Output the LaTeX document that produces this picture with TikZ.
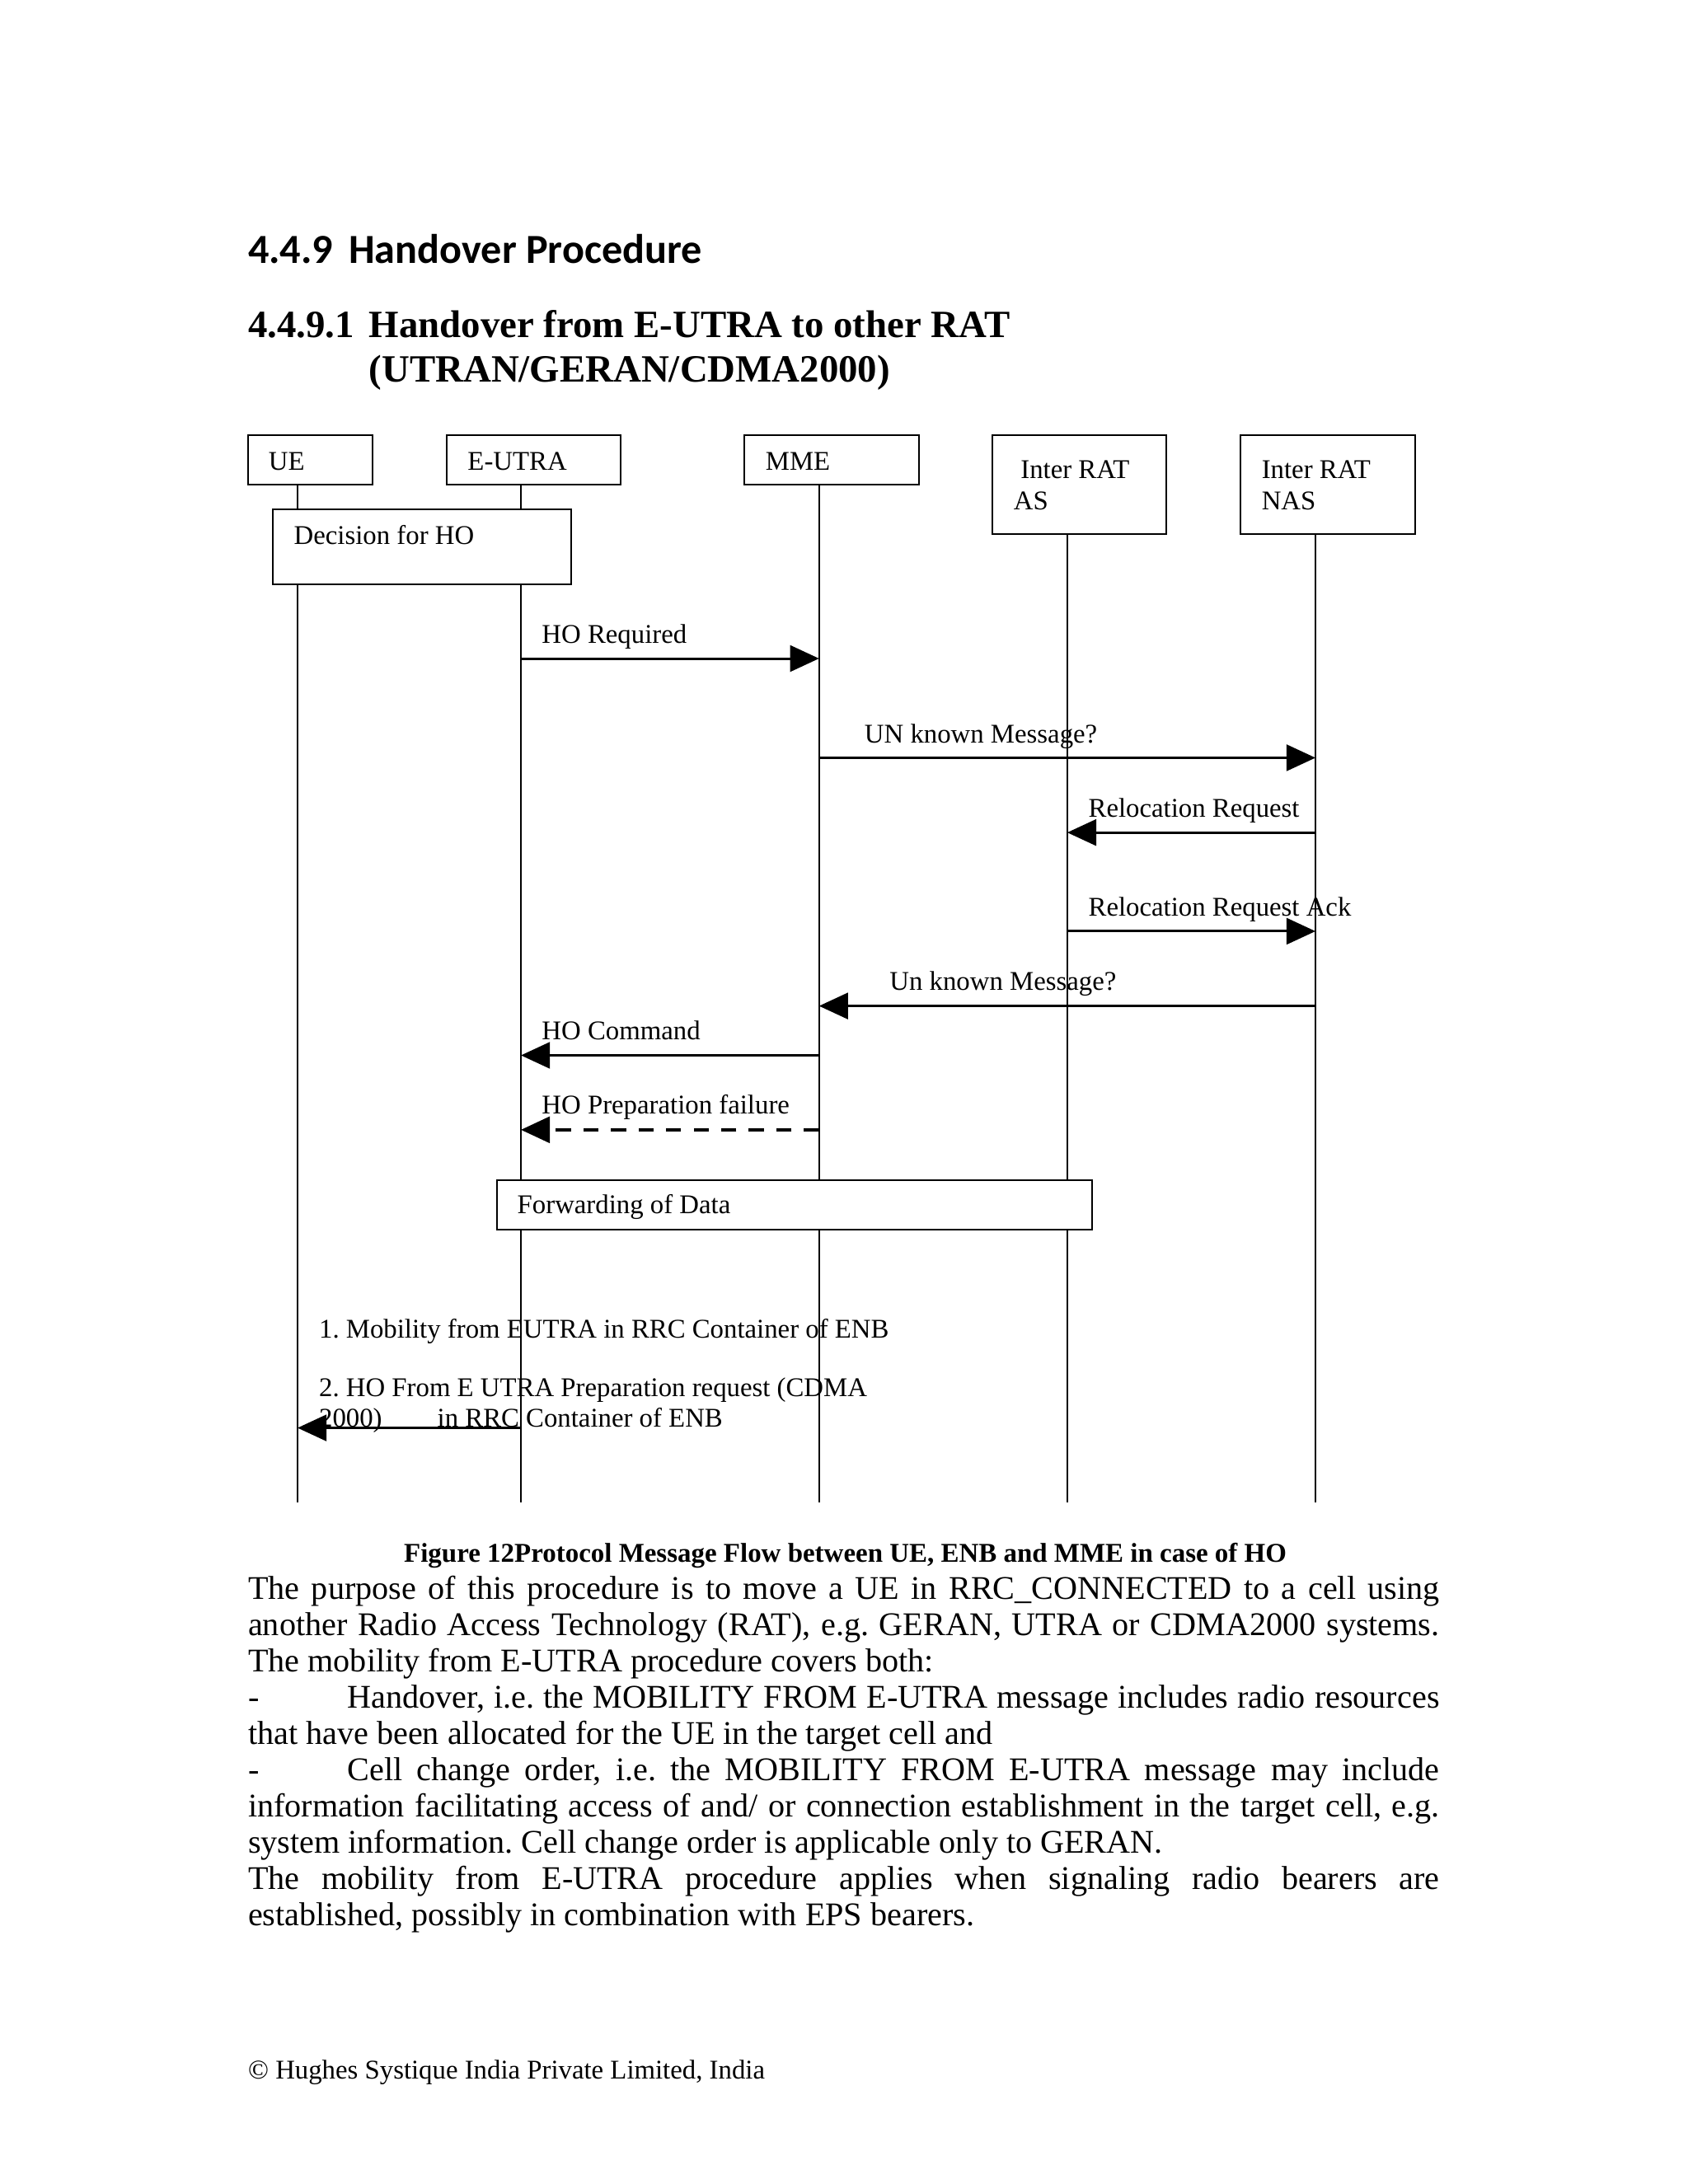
\documentclass[tikz,border=0pt]{standalone}
\usepackage{fontspec}
\setmainfont{Liberation Serif}
\newfontfamily\headsans{Carlito}
\usetikzlibrary{arrows.meta}
\begin{document}
\frenchspacing
\begin{tikzpicture}[x=1pt,y=-1pt,
  every node/.style={inner sep=0pt, outer sep=0pt},
  lbl/.style={anchor=base west, font=\fontsize{9.8}{11.2}\selectfont},
  bodyline/.style={anchor=base west, font=\fontsize{12}{13.2}\selectfont},
  actor/.style={draw, line width=0.6pt, anchor=north west, fill=white},
  life/.style={line width=0.6pt},
  msg/.style={line width=0.9pt, -{Triangle[length=10.5pt,width=9.5pt]}},
  dmsg/.style={msg, line width=1.1pt, dash pattern=on 5.5pt off 4.5pt},
]
\fill[white] (0,0) rectangle (612,792);
\useasboundingbox (0,0) rectangle (612,792);

% headings
\node[anchor=base west, font=\headsans\bfseries\fontsize{15}{17}\selectfont] (h1a) at (90,95.6) {4.4.9};
\node[anchor=base west, font=\headsans\bfseries\fontsize{15}{17}\selectfont] (h1b) at (126.5,95.6) {Handover Procedure};
\node[anchor=base west, font=\bfseries\fontsize{14}{16}\selectfont] (h2a) at (90,122.3) {4.4.9.1};
\node[anchor=base west, font=\bfseries\fontsize{14}{16}\selectfont] (h2b) at (133.8,122.3) {Handover from E-UTRA to other RAT};
\node[anchor=base west, font=\bfseries\fontsize{14}{16}\selectfont] (h2c) at (133.8,138.5) {(UTRAN/GERAN/CDMA2000)};

% lifelines
\coordinate (ueT) at (107.9,175.8); \coordinate (ueB) at (107.9,544.7);
\coordinate (euT) at (188.9,175.8); \coordinate (euB) at (188.9,544.7);
\coordinate (mmT) at (297.0,175.8); \coordinate (mmB) at (297.0,544.7);
\coordinate (asT) at (387.0,193.7); \coordinate (asB) at (387.0,544.7);
\coordinate (naT) at (477.0,193.7); \coordinate (naB) at (477.0,544.7);
\draw[life] (ueT) -- (ueB);
\draw[life] (euT) -- (euB);
\draw[life] (mmT) -- (mmB);
\draw[life] (asT) -- (asB);
\draw[life] (naT) -- (naB);

% actor boxes
\node[actor, minimum width=45.2pt, minimum height=17.9pt] (ue) at (89.9,157.9) {};
\node[actor, minimum width=63.1pt, minimum height=17.9pt] (eu) at (161.9,157.9) {};
\node[actor, minimum width=63.2pt, minimum height=17.9pt] (mme) at (269.9,157.9) {};
\node[actor, minimum width=63.1pt, minimum height=35.8pt] (as) at (359.9,157.9) {};
\node[actor, minimum width=63.4pt, minimum height=35.8pt] (nas) at (449.7,157.9) {};
\node[actor, minimum width=108.1pt, minimum height=27.1pt] (dec) at (98.9,184.8) {};
\node[actor, minimum width=215.8pt, minimum height=17.9pt] (fwd) at (180.3,427.9) {};

\node[lbl] (tue) at (97.4,170.6) {UE};
\node[lbl] (teu) at (169.6,170.6) {E-UTRA};
\node[lbl] (tmme) at (277.6,170.6) {MME};
\node[lbl] (tas1) at (370.1,173.5) {Inter RAT};
\node[lbl] (tas2) at (367.6,184.8) {AS};
\node[lbl] (tna1) at (457.5,173.5) {Inter RAT};
\node[lbl] (tna2) at (457.5,184.8) {NAS};
\node[lbl] (tdec) at (106.6,197.4) {Decision for HO};
\node[lbl] (tfwd) at (187.6,440.1) {Forwarding of Data};

% messages
\coordinate (m1a) at (188.9,238.8); \coordinate (m1b) at (297.0,238.8);
\coordinate (m2a) at (297.0,274.8); \coordinate (m2b) at (477.0,274.8);
\coordinate (m3a) at (477.0,301.9); \coordinate (m3b) at (387.0,301.9);
\coordinate (m4a) at (387.0,337.7); \coordinate (m4b) at (477.0,337.7);
\coordinate (m5a) at (477.0,364.8); \coordinate (m5b) at (297.0,364.8);
\coordinate (m6a) at (297.0,382.7); \coordinate (m6b) at (188.9,382.7);
\coordinate (m7a) at (297.0,409.7); \coordinate (m7b) at (188.9,409.7);
\coordinate (m8a) at (188.9,517.8); \coordinate (m8b) at (107.9,517.8);
\draw[msg] (m1a) -- (m1b);
\draw[msg] (m2a) -- (m2b);
\draw[msg] (m3a) -- (m3b);
\draw[msg] (m4a) -- (m4b);
\draw[msg] (m5a) -- (m5b);
\draw[msg] (m6a) -- (m6b);
\draw[dmsg] (m7a) -- (m7b);
\draw[msg] (m8a) -- (m8b);

\node[lbl] (l1) at (196.5,233.3) {HO Required};
\node[lbl] (l2) at (313.5,269.5) {UN known Message?};
\node[lbl] (l3) at (394.7,296.4) {Relocation Request};
\node[lbl] (l4) at (394.7,332.2) {Relocation Request Ack};
\node[lbl] (l5) at (322.6,359.1) {Un known Message?};
\node[lbl] (l6) at (196.5,377.1) {HO Command};
\node[lbl] (l7) at (196.5,404.0) {HO Preparation failure};
\node[lbl] (l8a) at (115.7,485.1) {1. Mobility from EUTRA in RRC Container of ENB};
\node[lbl] (l8b) at (115.7,506.3) {2. HO From E UTRA Preparation request (CDMA};
\node[lbl] (l8c) at (115.7,517.5) {2000)};
\node[lbl] (l8d) at (158.6,517.5) {in RRC Container of ENB};

% caption
\node[anchor=base, font=\bfseries\fontsize{9.85}{11}\selectfont] (cap) at (306.5,566.5) {Figure 12Protocol Message Flow between UE, ENB and MME in case of HO};

% body text
\node[bodyline] (b1) at (90,580.0) {\makebox[432pt][s]{The purpose of this procedure is to move a UE in RRC\_CONNECTED to a cell using}};
\node[bodyline] (b2) at (90,593.2) {\makebox[432pt][s]{another Radio Access Technology (RAT), e.g. GERAN, UTRA or CDMA2000 systems.}};
\node[bodyline] (b3) at (90,606.3) {The mobility from E-UTRA procedure covers both:};
\node[bodyline] (b4d) at (90,619.5) {-};
\node[bodyline] (b4) at (126,619.5) {\makebox[396pt][s]{Handover, i.e. the MOBILITY FROM E-UTRA message includes radio resources}};
\node[bodyline] (b5) at (90,632.6) {that have been allocated for the UE in the target cell and};
\node[bodyline] (b6d) at (90,645.8) {-};
\node[bodyline] (b6) at (126,645.8) {\makebox[396pt][s]{Cell change order, i.e. the MOBILITY FROM E-UTRA message may include}};
\node[bodyline] (b7) at (90,658.9) {\makebox[432pt][s]{information facilitating access of and/ or connection establishment in the target cell, e.g.}};
\node[bodyline] (b8) at (90,672.1) {system information. Cell change order is applicable only to GERAN.};
\node[bodyline] (b9) at (90,685.2) {\makebox[432pt][s]{The mobility from E-UTRA procedure applies when signaling radio bearers are}};
\node[bodyline] (b10) at (90,698.4) {established, possibly in combination with EPS bearers.};

% footer
\node[anchor=base west, font=\fontsize{9.8}{12}\selectfont] (foot) at (90,753.8) {© Hughes Systique India Private Limited, India};
\end{tikzpicture}
\end{document}
